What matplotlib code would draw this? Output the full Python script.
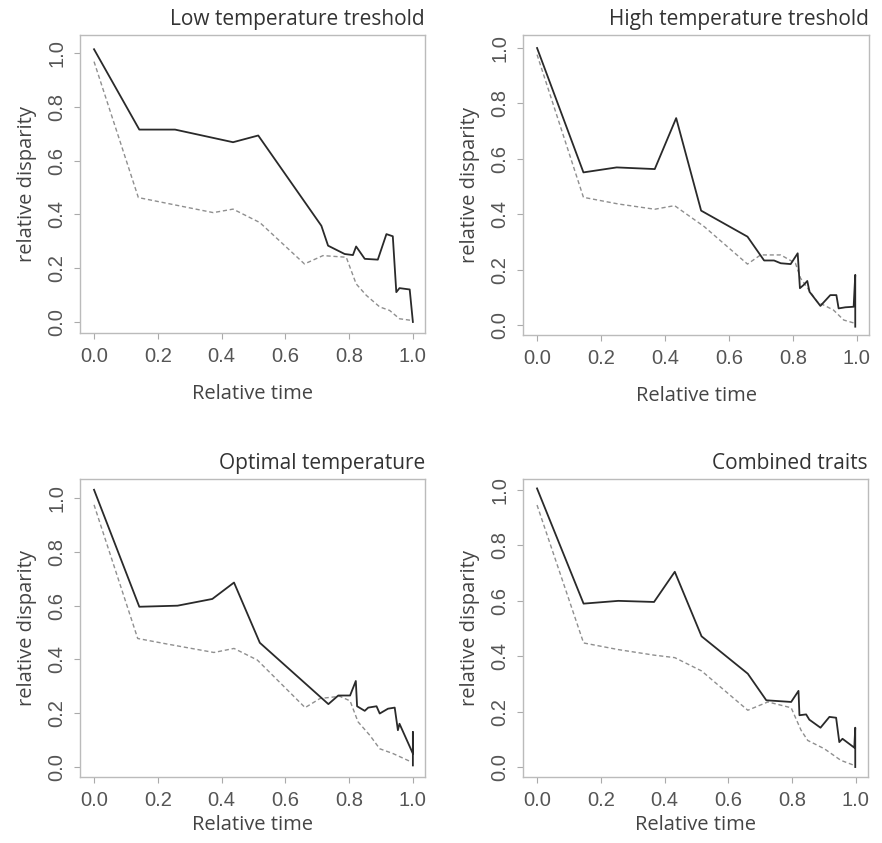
#!/usr/bin/python
# plot.py
# Relative disparity through relative time for four trait scenarios

import matplotlib
matplotlib.use('Agg')
import matplotlib.pyplot as plt

# BEGIN: DATA ################################################################
titles = ['Low temperature treshold',
          'High temperature treshold',
          'Optimal temperature',
          'Combined traits']

# Low temperature treshold
low_obs_x = [0.0, 0.142, 0.254, 0.436, 0.515, 0.713, 0.734, 0.786, 0.812,
             0.822, 0.849, 0.890, 0.917, 0.937, 0.948, 0.958, 0.990, 1.0]
low_obs_y = [1.015, 0.716, 0.716, 0.669, 0.694, 0.358, 0.284, 0.253, 0.249,
             0.281, 0.235, 0.232, 0.327, 0.319, 0.111, 0.126, 0.121, 0.0]
low_null_x = [0.0, 0.139, 0.374, 0.436, 0.520, 0.660, 0.718, 0.791, 0.822,
              0.854, 0.896, 0.927, 0.958, 0.995]
low_null_y = [0.969, 0.463, 0.407, 0.420, 0.370, 0.216, 0.247, 0.241, 0.142,
              0.099, 0.056, 0.043, 0.012, 0.006]

# High temperature treshold
high_obs_x = [0.0, 0.145, 0.249, 0.368, 0.435, 0.513, 0.658, 0.710, 0.741,
              0.762, 0.793, 0.815, 0.822, 0.834, 0.845, 0.852, 0.886, 0.917,
              0.936, 0.943, 0.964, 0.990, 0.995, 0.995]
high_obs_y = [1.0, 0.551, 0.569, 0.563, 0.747, 0.413, 0.319, 0.233, 0.233,
              0.223, 0.220, 0.259, 0.133, 0.145, 0.159, 0.120, 0.069, 0.108,
              0.108, 0.060, 0.064, 0.066, 0.181, -0.006]
high_null_x = [0.0, 0.145, 0.254, 0.368, 0.430, 0.523, 0.658, 0.699, 0.762,
               0.808, 0.824, 0.876, 0.927, 0.959, 0.995]
high_null_y = [0.976, 0.461, 0.437, 0.418, 0.431, 0.355, 0.220, 0.253, 0.253,
               0.223, 0.169, 0.084, 0.054, 0.018, 0.006]

# Optimal temperature
opt_obs_x = [0.0, 0.142, 0.262, 0.371, 0.439, 0.520, 0.735, 0.766, 0.803,
             0.821, 0.825, 0.849, 0.860, 0.886, 0.896, 0.922, 0.943, 0.953,
             0.958, 1.0, 1.0, 1.0]
opt_obs_y = [1.031, 0.596, 0.600, 0.625, 0.686, 0.462, 0.234, 0.266, 0.266,
             0.320, 0.226, 0.209, 0.221, 0.226, 0.199, 0.217, 0.221, 0.137,
             0.161, 0.050, 0.130, 0.006]
opt_null_x = [0.0, 0.137, 0.231, 0.376, 0.439, 0.512, 0.662, 0.709, 0.771,
              0.803, 0.828, 0.865, 0.896, 0.938, 0.995]
opt_null_y = [0.975, 0.478, 0.457, 0.426, 0.441, 0.398, 0.221, 0.255, 0.263,
              0.246, 0.168, 0.118, 0.068, 0.050, 0.019]

# Combined traits
comb_obs_x = [0.0, 0.146, 0.255, 0.367, 0.432, 0.516, 0.661, 0.719, 0.797,
              0.820, 0.823, 0.844, 0.854, 0.889, 0.917, 0.938, 0.948, 0.958,
              0.995, 0.998, 0.998]
comb_obs_y = [1.006, 0.590, 0.600, 0.596, 0.705, 0.472, 0.337, 0.241, 0.235,
              0.275, 0.187, 0.190, 0.171, 0.142, 0.181, 0.178, 0.090, 0.102,
              0.070, 0.142, 0.0]
comb_null_x = [0.0, 0.146, 0.255, 0.367, 0.432, 0.516, 0.661, 0.724, 0.797,
               0.828, 0.849, 0.901, 0.953, 0.995]
comb_null_y = [0.946, 0.448, 0.424, 0.404, 0.395, 0.347, 0.205, 0.235, 0.214,
               0.133, 0.096, 0.066, 0.024, 0.006]

obs_x = [low_obs_x, high_obs_x, opt_obs_x, comb_obs_x]
obs_y = [low_obs_y, high_obs_y, opt_obs_y, comb_obs_y]
null_x = [low_null_x, high_null_x, opt_null_x, comb_null_x]
null_y = [low_null_y, high_null_y, opt_null_y, comb_null_y]

ticks = [0.0, 0.2, 0.4, 0.6, 0.8, 1.0]
tick_labels = ['0.0', '0.2', '0.4', '0.6', '0.8', '1.0']
ylims = [(-0.041, 1.068), (-0.036, 1.047), (-0.037, 1.071), (-0.036, 1.04)]
# END:   DATA ################################################################


# BEGIN: PLOT ################################################################
text_font = ['Open Sans', 'DejaVu Sans']
tick_font = ['Liberation Sans Narrow', 'Liberation Sans', 'DejaVu Sans']

fig = plt.figure(figsize=(8.82, 8.43), dpi=100)

# axes boxes in pixels: left, top, right, bottom
boxes = [(80, 35, 425, 333),
         (523, 35, 869, 335),
         (80, 479, 425, 777),
         (523, 479, 868, 777)]

W, H = 882.0, 843.0
for i, (l, t, r, b) in enumerate(boxes):
    ax = fig.add_axes([l / W, 1 - b / H, (r - l) / W, (b - t) / H])

    ax.plot(null_x[i], null_y[i], color='#8f8f8f', lw=1.0,
            linestyle=(0, (3, 2)))
    ax.plot(obs_x[i], obs_y[i], color='#2a2a2a', lw=1.3)

    ax.set_xlim(-0.044, 1.038)
    ax.set_ylim(*ylims[i])

    ax.set_xticks(ticks)
    ax.set_xticklabels(tick_labels, family=tick_font, fontsize=14.5,
                       color='#555555')
    ax.set_yticks(ticks)
    ax.set_yticklabels(tick_labels, family=tick_font, fontsize=14.5,
                       color='#555555', rotation=90, va='center')
    ax.tick_params(length=4, width=0.8, color='#aaaaaa', pad=6)

    for sp in ax.spines.values():
        sp.set_color('#bbbbbb')
        sp.set_linewidth(1.0)

    ax.set_title(titles[i], loc='right', family=text_font, fontsize=15,
                 color='#333333', pad=7)
    ax.set_xlabel('Relative time', family=text_font, fontsize=14.5,
                  color='#444444', labelpad=13 if i < 2 else 4)
    ax.set_ylabel('relative disparity', family=text_font, fontsize=14.5,
                  color='#444444', labelpad=7)

fig.savefig('out.png', dpi=100)
# END:   PLOT ################################################################
